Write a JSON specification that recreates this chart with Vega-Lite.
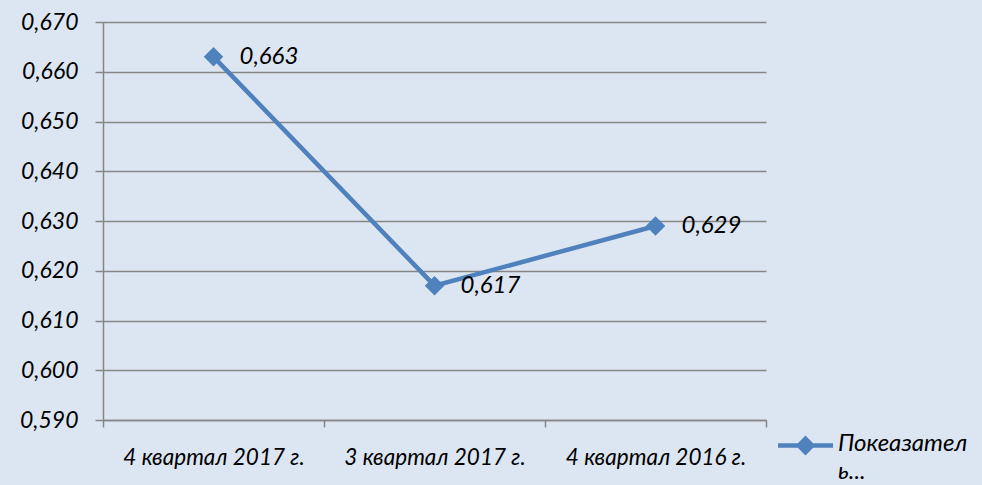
{
  "$schema": "https://vega.github.io/schema/vega-lite/v6.json",
  "width": 663,
  "height": 398,
  "autosize": {"type": "none"},
  "padding": {"left": 103, "top": 22, "right": 216, "bottom": 65},
  "background": "#dce6f2",
  "config": {
    "view": {"stroke": null},
    "font": "Lato",
    "locale": {"number": {"decimal": ",", "thousands": " ", "grouping": [3], "currency": ["", ""]}}
  },
  "data": {
    "values": [
      {"period": "4 квартал 2017 г.", "value": 0.663, "series": "Покеазатель"},
      {"period": "3 квартал 2017 г.", "value": 0.617, "series": "Покеазатель"},
      {"period": "4 квартал 2016 г.", "value": 0.629, "series": "Покеазатель"}
    ]
  },
  "encoding": {
    "x": {
      "field": "period",
      "type": "nominal",
      "sort": null,
      "scale": {"type": "band", "paddingInner": 0, "paddingOuter": 0},
      "axis": {
        "title": null,
        "labelAngle": 0,
        "labelFont": "Lato",
        "labelFontSize": 22.5,
        "labelFontStyle": "italic",
        "labelColor": "#000000",
        "labelPadding": 19,
        "labelLimit": 400,
        "domainColor": "#868686",
        "domainWidth": 1.5,
        "tickColor": "#868686",
        "tickWidth": 1.5,
        "tickSize": 7,
        "tickBand": "extent",
        "grid": false
      }
    },
    "y": {
      "field": "value",
      "type": "quantitative",
      "scale": {"domain": [0.59, 0.67], "zero": false, "nice": false},
      "axis": {
        "title": null,
        "values": [0.59, 0.6, 0.61, 0.62, 0.63, 0.64, 0.65, 0.66, 0.67],
        "format": ".3f",
        "labelFont": "Lato",
        "labelFontSize": 23,
        "labelFontStyle": "italic",
        "labelColor": "#000000",
        "labelPadding": 17,
        "domainColor": "#868686",
        "domainWidth": 1.5,
        "tickColor": "#868686",
        "tickWidth": 1.5,
        "tickSize": 8,
        "grid": true,
        "gridColor": "#868686",
        "gridWidth": 1.5
      }
    }
  },
  "layer": [
    {
      "mark": {
        "type": "line",
        "strokeWidth": 4.5,
        "point": {"shape": "diamond", "size": 380, "filled": true, "opacity": 1}
      },
      "encoding": {
        "color": {
          "field": "series",
          "type": "nominal",
          "scale": {"range": ["#4f81bd"]},
          "legend": {
            "orient": "none",
            "legendX": 684,
            "legendY": 405,
            "title": null,
            "padding": 0,
            "symbolType": "M-1.72,0L1.72,0M0,-0.42L0.42,0L0,0.42L-0.42,0Z",
            "symbolSize": 1024,
            "symbolFillColor": "#4f81bd",
            "symbolStrokeColor": "#4f81bd",
            "symbolStrokeWidth": 4.5,
            "symbolOffset": 0,
            "labelFont": "Lato",
            "labelFontSize": 24,
            "labelFontStyle": "italic",
            "labelColor": "#000000",
            "labelOffset": 14,
            "labelLimit": 400,
            "labelBaseline": "alphabetic",
            "labelExpr": "['Покеазател', 'ь...']",
            "encode": {"labels": {"update": {"lineHeight": {"value": 28}, "dy": {"value": 5}}}}
          }
        }
      }
    },
    {
      "mark": {"type": "text", "align": "left", "dx": 26, "fontStyle": "italic", "fontSize": 24, "font": "Lato", "color": "#000000"},
      "encoding": {"text": {"field": "value", "type": "quantitative", "format": ".3f"}}
    }
  ]
}
